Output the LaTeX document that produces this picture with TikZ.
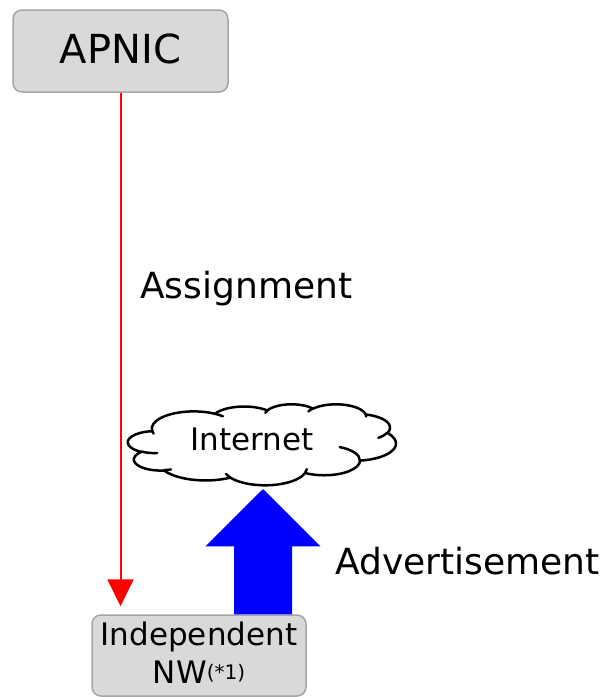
\documentclass[tikz,border=0pt]{standalone}
\usepackage{fontspec}
\setmainfont{DejaVu Sans}
\usetikzlibrary{arrows.meta,calc}
\definecolor{boxfill}{HTML}{D9D9D9}
\definecolor{boxline}{HTML}{A6A6A6}
\tikzset{
  graybox/.style={draw=boxline, line width=1.5pt, fill=boxfill, rounded corners=9pt, inner sep=0pt},
  assignarrow/.style={draw=red, line width=2pt, -{Triangle[width=26pt,length=27pt]}},
  bigtext/.style={font=\fontsize{36}{40}\selectfont, inner sep=0pt, anchor=base west},
  cloudline/.style={draw=black, line width=2.5pt, line join=round, line cap=round},
  ooarc/.style n args={4}{x radius=#1, y radius=#2,
    start angle={atan2(#1*sin(#3),#2*cos(#3))},
    delta angle={mod(atan2(#1*sin(#3+#4),#2*cos(#3+#4))-atan2(#1*sin(#3),#2*cos(#3))+720,360)}},
}
\begin{document}
\begin{tikzpicture}[x=1pt,y=-1pt]
\useasboundingbox (0,0) rectangle (605,697);
% boxes
\node[graybox, minimum width=215pt, minimum height=82pt] (apnic) at (120.5,51) {};
\node[font=\fontsize{40}{44}\selectfont, inner sep=0pt, anchor=base] (apnictext) at (120.5,63) {APNIC};
\node[graybox, minimum width=214pt, minimum height=81pt] (indep) at (199,655.5) {};
\node[font=\fontsize{31}{38}\selectfont, inner sep=0pt, anchor=base] (indeptext) at (199,645) {Independent};
\node[font=\fontsize{31}{38}\selectfont, inner sep=0pt, anchor=base] (nwtext) at (199,683) {NW\raisebox{4pt}{\fontsize{20}{20}\selectfont(*1)}};
% cloud
\begin{scope}[shift={(128,404)}]
\begin{scope}[x=268pt/432, y=-81pt/432]
\draw[cloudline, fill=white] (39.00,143.70)
  \foreach \a/\b/\s/\w in {67.53/91.90/-190.4875/123.7805, 53.33/72.67/-144.1024/89.9452,
     43.65/59.45/-145.8079/99.7230, 48.57/65.95/-130.9861/117.2417,
     53.33/72.73/-78.7089/109.0269, 67.75/92.20/-46.2673/130.2690,
     57.85/78.67/0.6250/114.0333, 67.52/92.15/22.4516/115.1726,
     77.20/105.43/66.2426/75.7110, 43.60/59.18/-274.9421/146.7356,
     43.45/59.45/-246.8285/152.5189}
  { arc[ooarc={\a}{\b}{\s}{\w}] } -- cycle;
\draw[cloudline]
  \foreach \px/\py/\a/\b/\s/\w in {46.93/261.77/43.45/59.45/86.742/26.4295,
     69.28/348.99/43.60/59.18/73.6105/11.4475,
     164.78/390.90/67.52/92.15/137.6242/14.0811,
     288.27/347.51/67.52/92.15/6.4533/15.9984,
     341.29/229.54/57.85/78.67/-70.2924/70.9174,
     417.98/153.54/53.33/72.73/30.3180/27.7515,
     383.24/54.26/48.57/65.95/-13.7443/14.8589,
     290.78/39.52/48.57/65.95/-149.1815/18.1954,
     221.41/47.20/43.65/59.45/-163.4943/17.6864,
     140.00/51.92/67.53/91.90/-66.7070/12.3194,
     41.27/157.89/67.53/91.90/157.6544/11.8582}
  { (\px,\py) arc[ooarc={\a}{\b}{\s}{\w}] };
\end{scope}
\end{scope}
\node[font=\fontsize{31}{36}\selectfont, inner sep=0pt, anchor=base] (inet) at (252,450) {Internet};
% connectors
\draw[assignarrow, shorten >=8pt] (apnic.south) -- (apnic.south |- indep.north);
\coordinate (advbase) at ($(indep.north)+(64,0)$);
\coordinate (advtip) at (advbase |- 0,489);
\fill[blue] ($(advbase)+(-29,0)$) -- ($(advbase)+(-29,-68)$) -- ($(advbase)+(-57.5,-68)$) -- (advtip) -- ($(advbase)+(57.5,-68)$) -- ($(advbase)+(29,-68)$) -- ($(advbase)+(29,0)$) -- cycle;
% labels
\node[bigtext] (assign) at (140,298) {Assignment};
\node[bigtext] (advert) at (335,574) {Advertisement};
\end{tikzpicture}
\end{document}
